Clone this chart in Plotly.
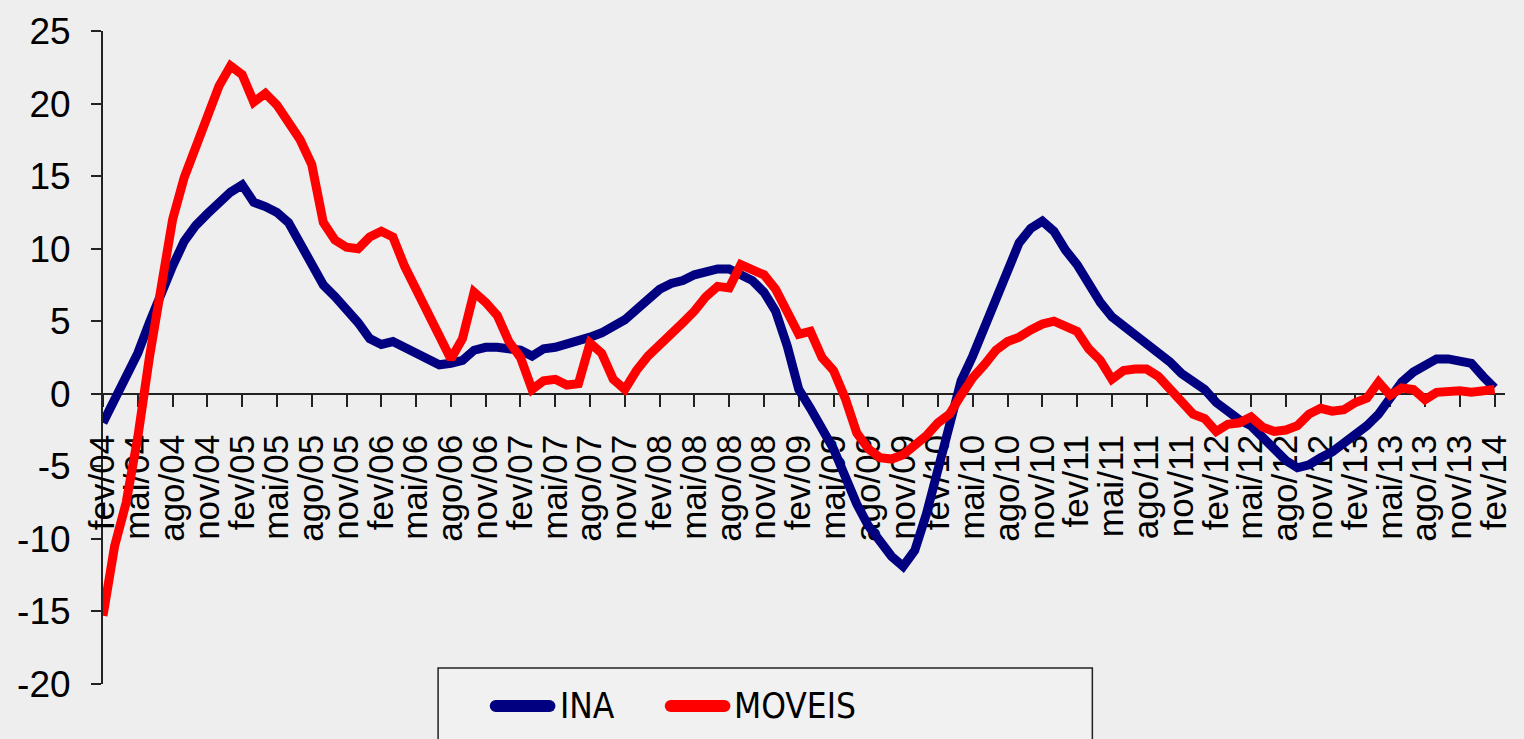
import plotly.graph_objects as go

meses = ["jan", "fev", "mar", "abr", "mai", "jun", "jul", "ago", "set", "out", "nov", "dez"]
# monthly categories fev/04 .. fev/14
categorias = []
for ano in range(4, 15):
    for m in range(12):
        if (ano == 4 and m < 1) or (ano == 14 and m > 1):
            continue
        categorias.append(f"{meses[m]}/{ano:02d}")

rotulos_x = [
    "fev/04", "mai/04", "ago/04", "nov/04", "fev/05", "mai/05", "ago/05", "nov/05",
    "fev/06", "mai/06", "ago/06", "nov/06", "fev/07", "mai/07", "ago/07", "nov/07",
    "fev/08", "mai/08", "ago/08", "nov/08", "fev/09", "mai/09", "ago/09", "nov/09",
    "fev/10", "mai/10", "ago/10", "nov/10", "fev/11", "mai/11", "ago/11", "nov/11",
    "fev/12", "mai/12", "ago/12", "nov/12", "fev/13", "mai/13", "ago/13", "nov/13",
    "fev/14",
]

y_ticks = [-20, -15, -10, -5, 0, 5, 10, 15, 20, 25]
y_ticktext = ["-20", "-15", "-10", "-5", "0", "5", "10", "15", "20", "25"]

ina = [
    -2.0, -0.4, 1.2, 2.8, 4.9, 7.0, 8.8, 10.5, 11.6, 12.4,
    13.2, 13.9, 14.4, 13.2, 12.9, 12.5, 11.8, 10.4, 8.8, 7.5,
    6.7, 5.9, 4.9, 3.8, 3.4, 3.6, 3.2, 2.8, 2.4, 2.0,
    2.1, 2.3, 3.0, 3.2, 3.2, 3.1, 3.0, 2.6, 3.1, 3.2,
    3.4, 3.6, 3.9, 4.2, 4.6, 5.1, 5.8, 6.6, 7.2, 7.6,
    7.8, 8.2, 8.4, 8.6, 8.6, 8.2, 7.8, 7.0, 5.7, 3.3,
    0.3, -1.0, -2.3, -3.8, -5.7, -7.6, -9.1, -10.1, -11.2, -11.9,
    -10.8, -8.3, -5.4, -2.5, 0.9, 2.6, 4.6, 6.5, 8.6, 10.4,
    11.4, 11.9, 11.2, 9.9, 8.9, 7.6, 6.3, 5.3, 4.7, 4.1,
    3.5, 2.8, 2.2, 1.4, 0.9, 0.3, -0.6, -1.3, -1.8, -2.2,
    -3.0, -3.7, -4.6, -5.1, -4.9, -4.4, -4.0, -3.4, -2.8, -2.2,
    -1.4, -0.3, 0.8, 1.5, 2.0, 2.4, 2.4, 2.3, 2.1, 1.2,
    0.4,
]

moveis = [
    -15.3, -10.5, -7.5, -3.0, 2.5, 7.3, 12.0, 14.9, 17.0, 19.1,
    21.2, 22.6, 22.0, 20.1, 20.7, 19.9, 18.8, 17.5, 15.8, 11.8,
    10.6, 10.1, 10.0, 10.8, 11.2, 10.8, 8.8, 7.2, 5.9, 4.2,
    2.4, 3.8, 7.0, 6.3, 5.4, 3.6, 2.5, 0.3, 0.9, 1.0,
    0.6, 0.7, 3.5, 2.8, 1.0, 0.3, 1.6, 2.6, 3.3, 4.1,
    4.9, 5.7, 6.7, 7.4, 7.3, 8.9, 8.5, 8.2, 7.2, 5.5,
    4.1, 4.3, 2.5, 1.6, -0.3, -2.7, -3.8, -4.4, -4.5, -4.2,
    -3.6, -2.9, -2.0, -1.4, -0.1, 1.1, 2.0, 3.0, 3.6, 3.9,
    4.4, 4.8, 5.0, 4.7, 4.3, 3.1, 2.3, 1.0, 1.6, 1.7,
    1.7, 1.2, 0.3, -0.7, -1.4, -1.7, -2.6, -2.1, -2.0, -1.6,
    -2.3, -2.6, -2.5, -2.2, -1.4, -1.0, -1.2, -1.1, -0.6, -0.3,
    0.8, -0.1, 0.4, 0.3, -0.4, 0.1, 0.2, 0.2, 0.1, 0.2,
    0.3,
]

series = [("INA", ina, "#000080"), ("MOVEIS", moveis, "#ff0000")]

BG = "#eeeeee"
FONT = "Liberation Sans, Arial, sans-serif"
NARROW = "Liberation Sans Narrow, Arial Narrow, DejaVu Sans Condensed, sans-serif"

fig = go.Figure()
for nome, vals, cor in series:
    fig.add_trace(go.Scatter(
        x=categorias, y=vals, mode="lines", name=nome,
        line=dict(color=cor, width=9), showlegend=False,
    ))

W, H = 1524, 739
ML, MR, MT, MB = 103, 11, 29, 55
pw, ph = W - ML - MR, H - MT - MB


def px_x(p):
    return (p - ML) / pw


def px_y(p):
    return (H - MB - p) / ph


yzero = (0 - y_ticks[0]) / (y_ticks[-1] - y_ticks[0])

fig.update_layout(
    width=W, height=H,
    margin=dict(l=ML, r=MR, t=MT, b=MB, pad=0),
    paper_bgcolor=BG, plot_bgcolor=BG,
    font=dict(family=FONT, color="black"),
    xaxis=dict(
        type="category", categoryorder="array", categoryarray=categorias,
        range=[0, 120.9], anchor="free", position=yzero,
        tickmode="array", tickvals=rotulos_x, ticktext=rotulos_x,
        tickangle=-90, tickfont=dict(size=35, family=FONT, color="black"),
        ticks="outside", ticklen=12, tickwidth=1.5, tickcolor="#222",
        showline=True, linecolor="#222", linewidth=2,
        showgrid=False, zeroline=False, layer="below traces",
        ticklabelstandoff=14, fixedrange=True,
    ),
    yaxis=dict(
        range=[y_ticks[0], y_ticks[-1]],
        tickmode="array", tickvals=y_ticks, ticktext=y_ticktext,
        tickfont=dict(size=37, family=FONT, color="black"),
        ticks="outside", ticklen=10, tickwidth=1.5, tickcolor="#222",
        showline=True, linecolor="#222", linewidth=2,
        showgrid=False, zeroline=False, layer="below traces",
        ticklabelstandoff=13, fixedrange=True,
    ),
)

# legend box (drawn manually to match the original layout)
shapes = [dict(
    type="rect", xref="paper", yref="paper",
    x0=px_x(440), x1=px_x(1098), y0=px_y(668), y1=px_y(760),
    line=dict(color="#222", width=1.5), fillcolor="#f1f1f1", layer="above",
)]
annotations = []
leg_items = [(492, 558, 561), (668, 734, 736)]
for (x0, x1, tx), (nome, vals, cor) in zip(leg_items, series):
    shapes.append(dict(
        type="line", xref="paper", yref="paper",
        x0=px_x(x0 + 6), x1=px_x(x1 - 6), y0=px_y(706), y1=px_y(706),
        line=dict(color=cor, width=12), layer="above",
    ))
    for cx in (x0 + 6, x1 - 6):
        shapes.append(dict(
            type="circle", xref="paper", yref="paper",
            xsizemode="pixel", ysizemode="pixel",
            xanchor=px_x(cx), yanchor=px_y(706),
            x0=-6, x1=6, y0=-6, y1=6,
            line=dict(width=0), fillcolor=cor, layer="above",
        ))
    annotations.append(dict(
        xref="paper", yref="paper", x=px_x(tx), y=px_y(706),
        xanchor="left", yanchor="middle", showarrow=False,
        text=nome, font=dict(size=35, family=NARROW, color="black"),
    ))
fig.update_layout(shapes=shapes, annotations=annotations)

fig.write_html(
    "out.html",
    config={"displayModeBar": False},
    post_script="document.body.style.margin='0';document.body.style.overflow='hidden';",
)
